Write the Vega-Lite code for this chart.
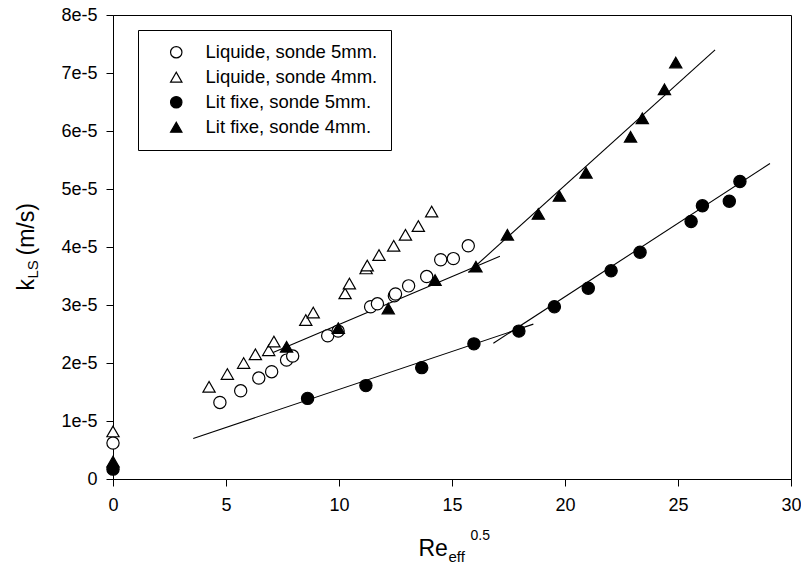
{
  "$schema": "https://vega.github.io/schema/vega-lite/v6.json",
  "width": 678,
  "height": 464,
  "autosize": {"type": "none"},
  "padding": {"left": 113, "top": 15, "right": 10, "bottom": 84},
  "background": "white",
  "config": {
    "font": "Liberation Sans",
    "view": {"stroke": "black", "strokeWidth": 1},
    "axis": {"grid": false, "domainColor": "black", "tickColor": "black", "labelColor": "black", "titleColor": "black", "titleFontWeight": "normal", "titleFont": "Liberation Sans"},
    "legend": {"orient": "none", "legendX": 25, "legendY": 15, "title": null, "strokeColor": "black", "fillColor": "white", "padding": 13, "labelFontSize": 18.5, "labelColor": "black", "symbolSize": 130, "symbolStrokeWidth": 1.2, "symbolStrokeColor": "black", "symbolOffset": 16, "labelOffset": 20, "rowPadding": 6, "labelLimit": 400}
  },
  "datasets": {
    "points": [
      {"series": "Liquide, sonde 5mm.", "re": 0, "k": 0.62e-5},
      {"series": "Liquide, sonde 5mm.", "re": 4.73, "k": 1.32e-5},
      {"series": "Liquide, sonde 5mm.", "re": 5.65, "k": 1.52e-5},
      {"series": "Liquide, sonde 5mm.", "re": 6.45, "k": 1.74e-5},
      {"series": "Liquide, sonde 5mm.", "re": 7.02, "k": 1.85e-5},
      {"series": "Liquide, sonde 5mm.", "re": 7.68, "k": 2.05e-5},
      {"series": "Liquide, sonde 5mm.", "re": 7.95, "k": 2.12e-5},
      {"series": "Liquide, sonde 5mm.", "re": 9.5, "k": 2.47e-5},
      {"series": "Liquide, sonde 5mm.", "re": 9.96, "k": 2.55e-5},
      {"series": "Liquide, sonde 5mm.", "re": 11.4, "k": 2.97e-5},
      {"series": "Liquide, sonde 5mm.", "re": 11.7, "k": 3.02e-5},
      {"series": "Liquide, sonde 5mm.", "re": 12.45, "k": 3.16e-5},
      {"series": "Liquide, sonde 5mm.", "re": 12.5, "k": 3.19e-5},
      {"series": "Liquide, sonde 5mm.", "re": 13.08, "k": 3.33e-5},
      {"series": "Liquide, sonde 5mm.", "re": 13.88, "k": 3.49e-5},
      {"series": "Liquide, sonde 5mm.", "re": 14.5, "k": 3.78e-5},
      {"series": "Liquide, sonde 5mm.", "re": 15.06, "k": 3.8e-5},
      {"series": "Liquide, sonde 5mm.", "re": 15.72, "k": 4.02e-5},
      {"series": "Liquide, sonde 4mm.", "re": 0, "k": 0.82e-5},
      {"series": "Liquide, sonde 4mm.", "re": 4.25, "k": 1.59e-5},
      {"series": "Liquide, sonde 4mm.", "re": 5.06, "k": 1.81e-5},
      {"series": "Liquide, sonde 4mm.", "re": 5.78, "k": 2.0e-5},
      {"series": "Liquide, sonde 4mm.", "re": 6.3, "k": 2.15e-5},
      {"series": "Liquide, sonde 4mm.", "re": 6.89, "k": 2.22e-5},
      {"series": "Liquide, sonde 4mm.", "re": 7.12, "k": 2.37e-5},
      {"series": "Liquide, sonde 4mm.", "re": 8.53, "k": 2.74e-5},
      {"series": "Liquide, sonde 4mm.", "re": 8.86, "k": 2.87e-5},
      {"series": "Liquide, sonde 4mm.", "re": 10.27, "k": 3.2e-5},
      {"series": "Liquide, sonde 4mm.", "re": 10.46, "k": 3.37e-5},
      {"series": "Liquide, sonde 4mm.", "re": 11.2, "k": 3.63e-5},
      {"series": "Liquide, sonde 4mm.", "re": 11.25, "k": 3.68e-5},
      {"series": "Liquide, sonde 4mm.", "re": 11.77, "k": 3.86e-5},
      {"series": "Liquide, sonde 4mm.", "re": 12.42, "k": 4.02e-5},
      {"series": "Liquide, sonde 4mm.", "re": 12.94, "k": 4.21e-5},
      {"series": "Liquide, sonde 4mm.", "re": 13.51, "k": 4.36e-5},
      {"series": "Liquide, sonde 4mm.", "re": 14.1, "k": 4.61e-5},
      {"series": "Lit fixe, sonde 5mm.", "re": 0, "k": 0.17e-5},
      {"series": "Lit fixe, sonde 5mm.", "re": 8.61, "k": 1.39e-5},
      {"series": "Lit fixe, sonde 5mm.", "re": 11.19, "k": 1.61e-5},
      {"series": "Lit fixe, sonde 5mm.", "re": 13.66, "k": 1.92e-5},
      {"series": "Lit fixe, sonde 5mm.", "re": 15.97, "k": 2.33e-5},
      {"series": "Lit fixe, sonde 5mm.", "re": 17.96, "k": 2.55e-5},
      {"series": "Lit fixe, sonde 5mm.", "re": 19.53, "k": 2.97e-5},
      {"series": "Lit fixe, sonde 5mm.", "re": 21.03, "k": 3.29e-5},
      {"series": "Lit fixe, sonde 5mm.", "re": 22.04, "k": 3.59e-5},
      {"series": "Lit fixe, sonde 5mm.", "re": 23.32, "k": 3.91e-5},
      {"series": "Lit fixe, sonde 5mm.", "re": 25.58, "k": 4.44e-5},
      {"series": "Lit fixe, sonde 5mm.", "re": 26.08, "k": 4.71e-5},
      {"series": "Lit fixe, sonde 5mm.", "re": 27.27, "k": 4.79e-5},
      {"series": "Lit fixe, sonde 5mm.", "re": 27.74, "k": 5.13e-5},
      {"series": "Lit fixe, sonde 4mm.", "re": 0, "k": 0.3e-5},
      {"series": "Lit fixe, sonde 4mm.", "re": 7.68, "k": 2.28e-5},
      {"series": "Lit fixe, sonde 4mm.", "re": 9.97, "k": 2.6e-5},
      {"series": "Lit fixe, sonde 4mm.", "re": 12.18, "k": 2.94e-5},
      {"series": "Lit fixe, sonde 4mm.", "re": 14.25, "k": 3.43e-5},
      {"series": "Lit fixe, sonde 4mm.", "re": 16.06, "k": 3.66e-5},
      {"series": "Lit fixe, sonde 4mm.", "re": 17.45, "k": 4.21e-5},
      {"series": "Lit fixe, sonde 4mm.", "re": 18.82, "k": 4.57e-5},
      {"series": "Lit fixe, sonde 4mm.", "re": 19.75, "k": 4.88e-5},
      {"series": "Lit fixe, sonde 4mm.", "re": 20.93, "k": 5.28e-5},
      {"series": "Lit fixe, sonde 4mm.", "re": 22.9, "k": 5.9e-5},
      {"series": "Lit fixe, sonde 4mm.", "re": 23.42, "k": 6.22e-5},
      {"series": "Lit fixe, sonde 4mm.", "re": 24.4, "k": 6.72e-5},
      {"series": "Lit fixe, sonde 4mm.", "re": 24.9, "k": 7.18e-5}
    ],
    "fits": [
      {"fit": "5mm", "part": "bas", "re": 3.55, "k": 0.70e-5, "re2": 18.6, "k2": 2.67e-5},
      {"fit": "5mm", "part": "haut", "re": 16.83, "k": 2.34e-5, "re2": 29.07, "k2": 5.44e-5},
      {"fit": "4mm", "part": "bas", "re": 6.9, "k": 2.15e-5, "re2": 17.12, "k2": 3.84e-5},
      {"fit": "4mm", "part": "haut", "re": 15.72, "k": 3.56e-5, "re2": 26.64, "k2": 7.40e-5}
    ]
  },
  "resolve": {"axis": {"x": "independent", "y": "independent"}},
  "layer": [
    {
      "data": {"name": "fits"},
      "transform": [{"filter": "datum.fit == '5mm'"}],
      "mark": {"type": "rule", "color": "black", "strokeWidth": 1.1},
      "encoding": {
        "x": {"field": "re", "type": "quantitative", "scale": {"domain": [0, 30], "nice": false, "zero": false},
          "axis": {"orient": "bottom", "labels": false, "ticks": false, "domain": false, "title": "Re", "titleFontSize": 23, "titleX": 305, "titleY": 76, "titleAlign": "left", "titleBaseline": "alphabetic", "titleAnchor": null}},
        "y": {"field": "k", "type": "quantitative", "scale": {"domain": [0, 8e-5], "nice": false, "zero": true},
          "axis": {"orient": "left", "labels": false, "ticks": false, "domain": false, "title": "k", "titleFontSize": 23, "titleAngle": -90, "titleX": -80, "titleY": 275, "titleAlign": "left", "titleBaseline": "alphabetic", "titleAnchor": null}},
        "x2": {"field": "re2"},
        "y2": {"field": "k2"}
      }
    },
    {
      "data": {"name": "fits"},
      "transform": [{"filter": "datum.fit == '4mm' && datum.part == 'bas'"}],
      "mark": {"type": "rule", "color": "black", "strokeWidth": 1.1},
      "encoding": {
        "x": {"field": "re", "type": "quantitative", "scale": {"domain": [0, 30], "nice": false, "zero": false},
          "axis": {"orient": "bottom", "labels": false, "ticks": false, "domain": false, "title": "eff", "titleFontSize": 15, "titleX": 335, "titleY": 82, "titleAlign": "left", "titleBaseline": "alphabetic", "titleAnchor": null}},
        "y": {"field": "k", "type": "quantitative", "scale": {"domain": [0, 8e-5], "nice": false, "zero": true},
          "axis": {"orient": "left", "labels": false, "ticks": false, "domain": false, "title": "LS", "titleFontSize": 15, "titleAngle": -90, "titleX": -76, "titleY": 263, "titleAlign": "left", "titleBaseline": "alphabetic", "titleAnchor": null}},
        "x2": {"field": "re2"},
        "y2": {"field": "k2"}
      }
    },
    {
      "data": {"name": "fits"},
      "transform": [{"filter": "datum.fit == '4mm' && datum.part == 'haut'"}],
      "mark": {"type": "rule", "color": "black", "strokeWidth": 1.1},
      "encoding": {
        "x": {"field": "re", "type": "quantitative", "scale": {"domain": [0, 30], "nice": false, "zero": false},
          "axis": {"orient": "bottom", "labels": false, "ticks": false, "domain": false, "title": "0.5", "titleFontSize": 14, "titleX": 357, "titleY": 60, "titleAlign": "left", "titleBaseline": "alphabetic", "titleAnchor": null}},
        "y": {"field": "k", "type": "quantitative", "scale": {"domain": [0, 8e-5], "nice": false, "zero": true},
          "axis": {"orient": "left", "labels": false, "ticks": false, "domain": false, "title": "(m/s)", "titleFontSize": 23, "titleAngle": -90, "titleX": -80, "titleY": 240, "titleAlign": "left", "titleBaseline": "alphabetic", "titleAnchor": null}},
        "x2": {"field": "re2"},
        "y2": {"field": "k2"}
      }
    },
    {
      "data": {"name": "points"},
      "mark": {"type": "point", "strokeWidth": 1.2, "size": 150, "opacity": 1, "fillOpacity": 1, "strokeOpacity": 1},
      "encoding": {
        "x": {"field": "re", "type": "quantitative", "scale": {"domain": [0, 30], "nice": false, "zero": false},
          "axis": {"orient": "bottom", "title": null, "values": [0, 5, 10, 15, 20, 25, 30], "tickSize": 7, "labelFontSize": 18, "labelPadding": 10, "labelFlush": false, "labelOverlap": false}},
        "y": {"field": "k", "type": "quantitative", "scale": {"domain": [0, 8e-5], "nice": false, "zero": true},
          "axis": {"orient": "left", "title": null, "values": [0, 1e-5, 2e-5, 3e-5, 4e-5, 5e-5, 6e-5, 7e-5, 8e-5], "tickSize": 7, "labelFontSize": 18, "labelPadding": 9, "labelFlush": false, "labelOverlap": false,
            "labelExpr": "datum.value == 0 ? '0' : format(datum.value, '.0e')"}},
        "shape": {"field": "series", "type": "nominal",
          "scale": {"domain": ["Liquide, sonde 5mm.", "Liquide, sonde 4mm.", "Lit fixe, sonde 5mm.", "Lit fixe, sonde 4mm."], "range": ["circle", "triangle-up", "circle", "triangle-up"]}},
        "fill": {"field": "series", "type": "nominal",
          "scale": {"domain": ["Liquide, sonde 5mm.", "Liquide, sonde 4mm.", "Lit fixe, sonde 5mm.", "Lit fixe, sonde 4mm."], "range": ["white", "white", "black", "black"]}},
        "stroke": {"field": "series", "type": "nominal",
          "scale": {"domain": ["Liquide, sonde 5mm.", "Liquide, sonde 4mm.", "Lit fixe, sonde 5mm.", "Lit fixe, sonde 4mm."], "range": ["black", "black", "black", "black"]}}
      }
    }
  ]
}
